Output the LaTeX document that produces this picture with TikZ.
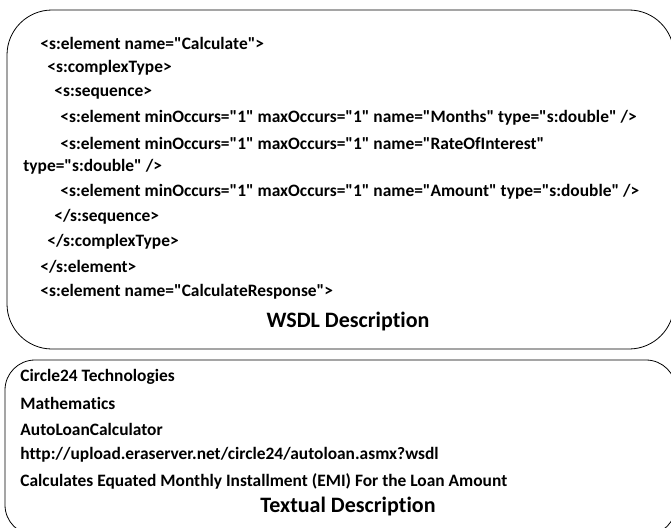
\documentclass[tikz,border=0pt]{standalone}
\usepackage{fontspec}
\newfontfamily\wsdlfont{Carlito}[Ligatures=NoCommon]

\begin{document}
\begin{tikzpicture}[x=1pt, y=-1pt, line width=0.8pt,
    code/.style={anchor=west, inner sep=0pt, font=\wsdlfont\bfseries\fontsize{17.4}{20}\selectfont},
    caption/.style={inner sep=0pt, font=\wsdlfont\bfseries\fontsize{22}{26}\selectfont}]
    \useasboundingbox (0,0) rectangle (671,527);

    \draw[rounded corners=45pt] (7,10) rectangle (674,349);
    \node[code] (calc)     at (40,43)  {<s:element name="Calculate">};
    \node[code] (ctype)    at (47,68)  {<s:complexType>};
    \node[code] (seq)      at (54,93)  {<s:sequence>};
    \node[code] (months)   at (60,118) {<s:element minOccurs="1" maxOccurs="1" name="Months" type="s:double" />};
    \node[code] (rate)     at (60,143) {<s:element minOccurs="1" maxOccurs="1" name="RateOfInterest"};
    \node[code] (ratetype) at (23,167) {type="s:double" />};
    \node[code] (amount)   at (60,192) {<s:element minOccurs="1" maxOccurs="1" name="Amount" type="s:double" />};
    \node[code] (endseq)   at (54,217) {</s:sequence>};
    \node[code] (endctype) at (47,242) {</s:complexType>};
    \node[code] (endel)    at (40,267) {</s:element>};
    \node[code] (resp)     at (40,292) {<s:element name="CalculateResponse">};
    \node[caption] (wsdl)  at (348,322) {WSDL Description};

    \draw[rounded corners=30pt] (5,360) rectangle (676,535);
    \node[code] (company)  at (20,377) {Circle24 Technologies};
    \node[code] (category) at (20,403) {Mathematics};
    \node[code] (service)  at (20,429) {AutoLoanCalculator};
    \node[code] (url)      at (20,455) {http://upload.eraserver.net/circle24/autoloan.asmx?wsdl};
    \node[code] (summary)  at (20,481) {Calculates Equated Monthly Installment (EMI) For the Loan Amount};
    \node[caption] (textual) at (348,507) {Textual Description};
\end{tikzpicture}
\end{document}
